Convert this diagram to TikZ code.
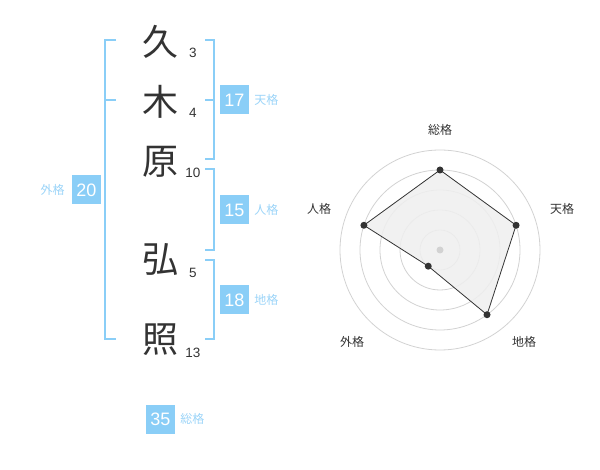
\documentclass[tikz,border=0pt]{standalone}
\usepackage{fontspec}
\setmainfont{Liberation Sans}
\newfontfamily\jfont{Noto Sans CJK JP}
\usetikzlibrary{positioning}
\definecolor{kaku}{HTML}{8ACEF7}
\definecolor{kakutext}{HTML}{9BD4F8}
\definecolor{sumi}{HTML}{333333}
\definecolor{ringgray}{HTML}{D2D2D2}
\definecolor{areagray}{HTML}{EFEFEF}
\begin{document}
\begin{tikzpicture}[x=1pt,y=-1pt,
	kanji/.style={font=\jfont\fontsize{36}{36}\selectfont, text=sumi, inner sep=0pt},
	strokes/.style={font=\fontsize{13.5}{14}\selectfont, text=sumi, inner sep=0pt},
	numbox/.style={fill=kaku, text=white, minimum size=29pt, inner sep=0pt, font=\fontsize{18}{18}\selectfont},
	kakuname/.style={font=\jfont\fontsize{12}{12}\selectfont, text=kakutext, inner sep=0pt},
	bracket/.style={draw=kaku, line width=2pt},
	ring/.style={draw=ringgray, line width=0.8pt},
	dot/.style={fill=sumi, circle, inner sep=0pt, minimum size=7pt},
	axisname/.style={font=\jfont\fontsize{12}{12}\selectfont, text=sumi, inner sep=0pt}]
\useasboundingbox (0,0) rectangle (600,470);
% name, one character per line
\node[kanji] (k1) at (160,42) {久};
\node[kanji] (k2) at (160,102) {木};
\node[kanji] (k3) at (160,162) {原};
\node[kanji] (k4) at (160,260) {弘};
\node[kanji] (k5) at (160,340) {照};
\node[strokes] (s1) at (193,53) {3};
\node[strokes] (s2) at (193,113) {4};
\node[strokes] (s3) at (193,173) {10};
\node[strokes] (s4) at (193,273) {5};
\node[strokes] (s5) at (193,353) {13};
% brackets
\draw[bracket] (116,40) -- (105,40) -- (105,339) -- (116,339);
\draw[bracket] (105,100) -- (116,100);
\draw[bracket] (205,40) -- (214,40) -- (214,159) -- (205,159);
\draw[bracket] (205,100) -- (214,100);
\draw[bracket] (205,169) -- (214,169) -- (214,250) -- (205,250);
\draw[bracket] (205,260) -- (214,260) -- (214,339) -- (205,339);
% the five totals
\node[numbox] (ten) at (234.5,100) {17};
\node[kakuname, right=5pt of ten] {天格};
\node[numbox] (jin) at (234.5,210) {15};
\node[kakuname, right=5pt of jin] {人格};
\node[numbox] (chi) at (234.5,300) {18};
\node[kakuname, right=5pt of chi] {地格};
\node[numbox] (gai) at (86.5,190) {20};
\node[kakuname, left=7pt of gai] {外格};
\node[numbox] (sou) at (160.5,419) {35};
\node[kakuname, right=5pt of sou] {総格};
% radar chart
\begin{scope}[shift={(440,250)}, y=1pt]
\foreach \r in {20,40,60,80,100}
	\draw[ring] (0,0) circle (\r);
\coordinate (rsou) at (90:80);
\coordinate (rten) at (18:80);
\coordinate (rchi) at (-54:80);
\coordinate (rgai) at (-126:20);
\coordinate (rjin) at (162:80);
\filldraw[fill=areagray, fill opacity=0.85, draw=sumi, line width=0.8pt]
	(rsou) -- (rten) -- (rchi) -- (rgai) -- (rjin) -- cycle;
\node[dot, fill=ringgray] (mid) at (0,0) {};
\foreach \p in {rsou,rten,rchi,rgai,rjin}
	\node[dot] (d\p) at (\p) {};
\node[axisname] (asou) at (0,120) {総格};
\node[axisname] (aten) at (122,41) {天格};
\node[axisname] (achi) at (84,-92) {地格};
\node[axisname] (agai) at (-88,-92) {外格};
\node[axisname] (ajin) at (-121,41) {人格};
\end{scope}
\end{tikzpicture}
\end{document}
